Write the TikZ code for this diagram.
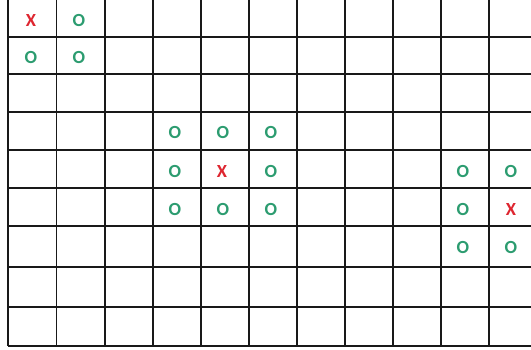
\documentclass[tikz,border=0pt]{standalone}
\usepackage{fontspec}
\setmainfont{Carlito}
\definecolor{ogreen}{RGB}{44,156,112}
\definecolor{xred}{RGB}{222,38,48}
\tikzset{
  gridline/.style={line width=1.5pt, draw=black!90},
  omark/.style={inner sep=0pt, text=ogreen, font=\fontsize{18.5}{18.5}\selectfont\bfseries},
  xmark/.style={inner sep=0pt, text=xred, font=\fontsize{18.5}{18.5}\selectfont\bfseries},
}
\begin{document}
\begin{tikzpicture}[x=1pt,y=-1pt]
\useasboundingbox (0,0) rectangle (531,349);
\begin{scope}
\clip (0,0) rectangle (531,349);
\fill[white] (0,0) rectangle (531,349);
\foreach \x in {8,56.7,105,153,201,249,297,345,393,441,489}
  \draw[gridline] (\x,-5) -- (\x,346);
\foreach \y in {37,74,112,150,188,226,267,307,346}
  \draw[gridline] (8,\y) -- (540,\y);
\end{scope}
% top-left
\node[xmark] (x1) at (31,20) {X};
\node[omark] (a1) at (79,20) {O};
\node[omark] (a2) at (31,57) {O};
\node[omark] (a3) at (79,57) {O};
% middle block
\node[omark] (b1) at (175,132) {O};
\node[omark] (b2) at (223,132) {O};
\node[omark] (b3) at (271,132) {O};
\node[omark] (b4) at (175,171) {O};
\node[xmark] (x2) at (222,171) {X};
\node[omark] (b5) at (271,171) {O};
\node[omark] (b6) at (175,209) {O};
\node[omark] (b7) at (223,209) {O};
\node[omark] (b8) at (271,209) {O};
% right block
\node[omark] (c1) at (463,171) {O};
\node[omark] (c2) at (511,171) {O};
\node[omark] (c3) at (463,209) {O};
\node[xmark] (x3) at (511,209) {X};
\node[omark] (c4) at (463,247) {O};
\node[omark] (c5) at (511,247) {O};
\end{tikzpicture}
\end{document}
